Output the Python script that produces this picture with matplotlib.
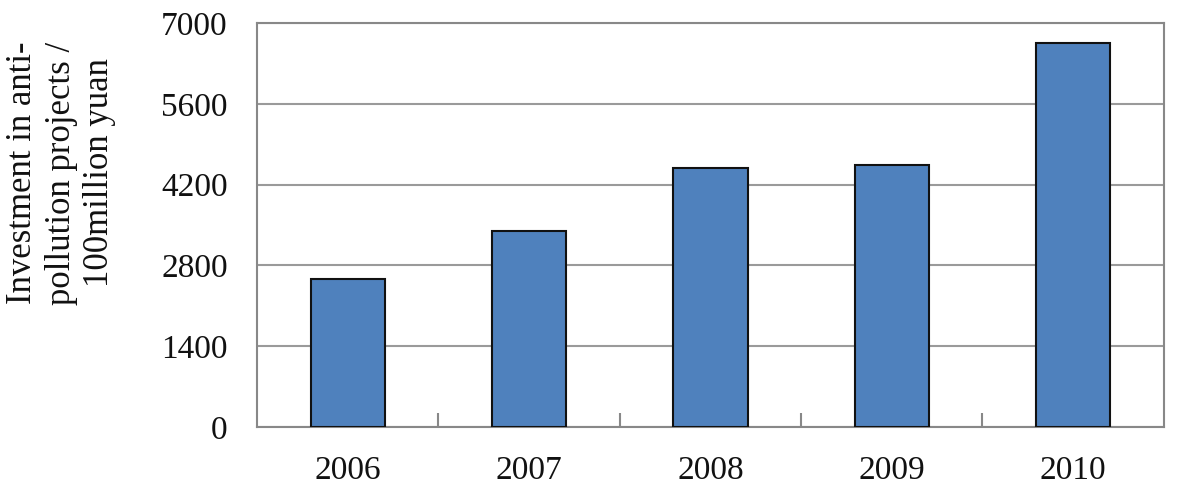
import numpy as np
import matplotlib
matplotlib.use('agg')
import matplotlib.pyplot as plt

years = ['2006', '2007', '2008', '2009', '2010']
investment = [2560, 3395, 4490, 4530, 6660]
y_ticks = [0, 1400, 2800, 4200, 5600, 7000]

plt.rcParams['font.family'] = ['Liberation Serif', 'DejaVu Serif']

fig = plt.figure(figsize=(11.79, 4.9), dpi=100)
ax = fig.add_axes([0.218, 0.129, 0.769, 0.824])

x = np.arange(len(years))
ax.bar(x, investment, width=0.41, color='#4F81BD', edgecolor='#111111',
       linewidth=1.5, zorder=3)

ax.set_xlim(-0.5, len(years) - 0.5)
ax.set_ylim(0, 7000)
ax.set_yticks(y_ticks)
ax.set_xticks(x)
ax.set_xticklabels(years)
ax.set_xticks(np.arange(0.5, len(years) - 1, 1.0), minor=True)

ax.grid(True, axis='y', color='#9a9a9a', linewidth=1.5, zorder=0)
for s in ax.spines.values():
    s.set_color('#888888')
    s.set_linewidth(1.5)

ax.tick_params(axis='y', length=0, pad=21, labelsize=24, labelcolor='#111111')
ax.tick_params(axis='x', which='major', length=0, pad=21, labelsize=24,
               labelcolor='#111111')
ax.tick_params(axis='x', which='minor', direction='in', length=10,
               width=1.5, color='#888888')

# y label sits a bit above the axis centre in the original
fig.text(61 / 1179, 1 - 173 / 490,
         'Investment in anti-\npollution projects /\n100million yuan',
         rotation=90, ha='center', va='center', multialignment='center',
         fontsize=25, color='#111111', linespacing=1.2)

fig.savefig('out.png', dpi=100)
